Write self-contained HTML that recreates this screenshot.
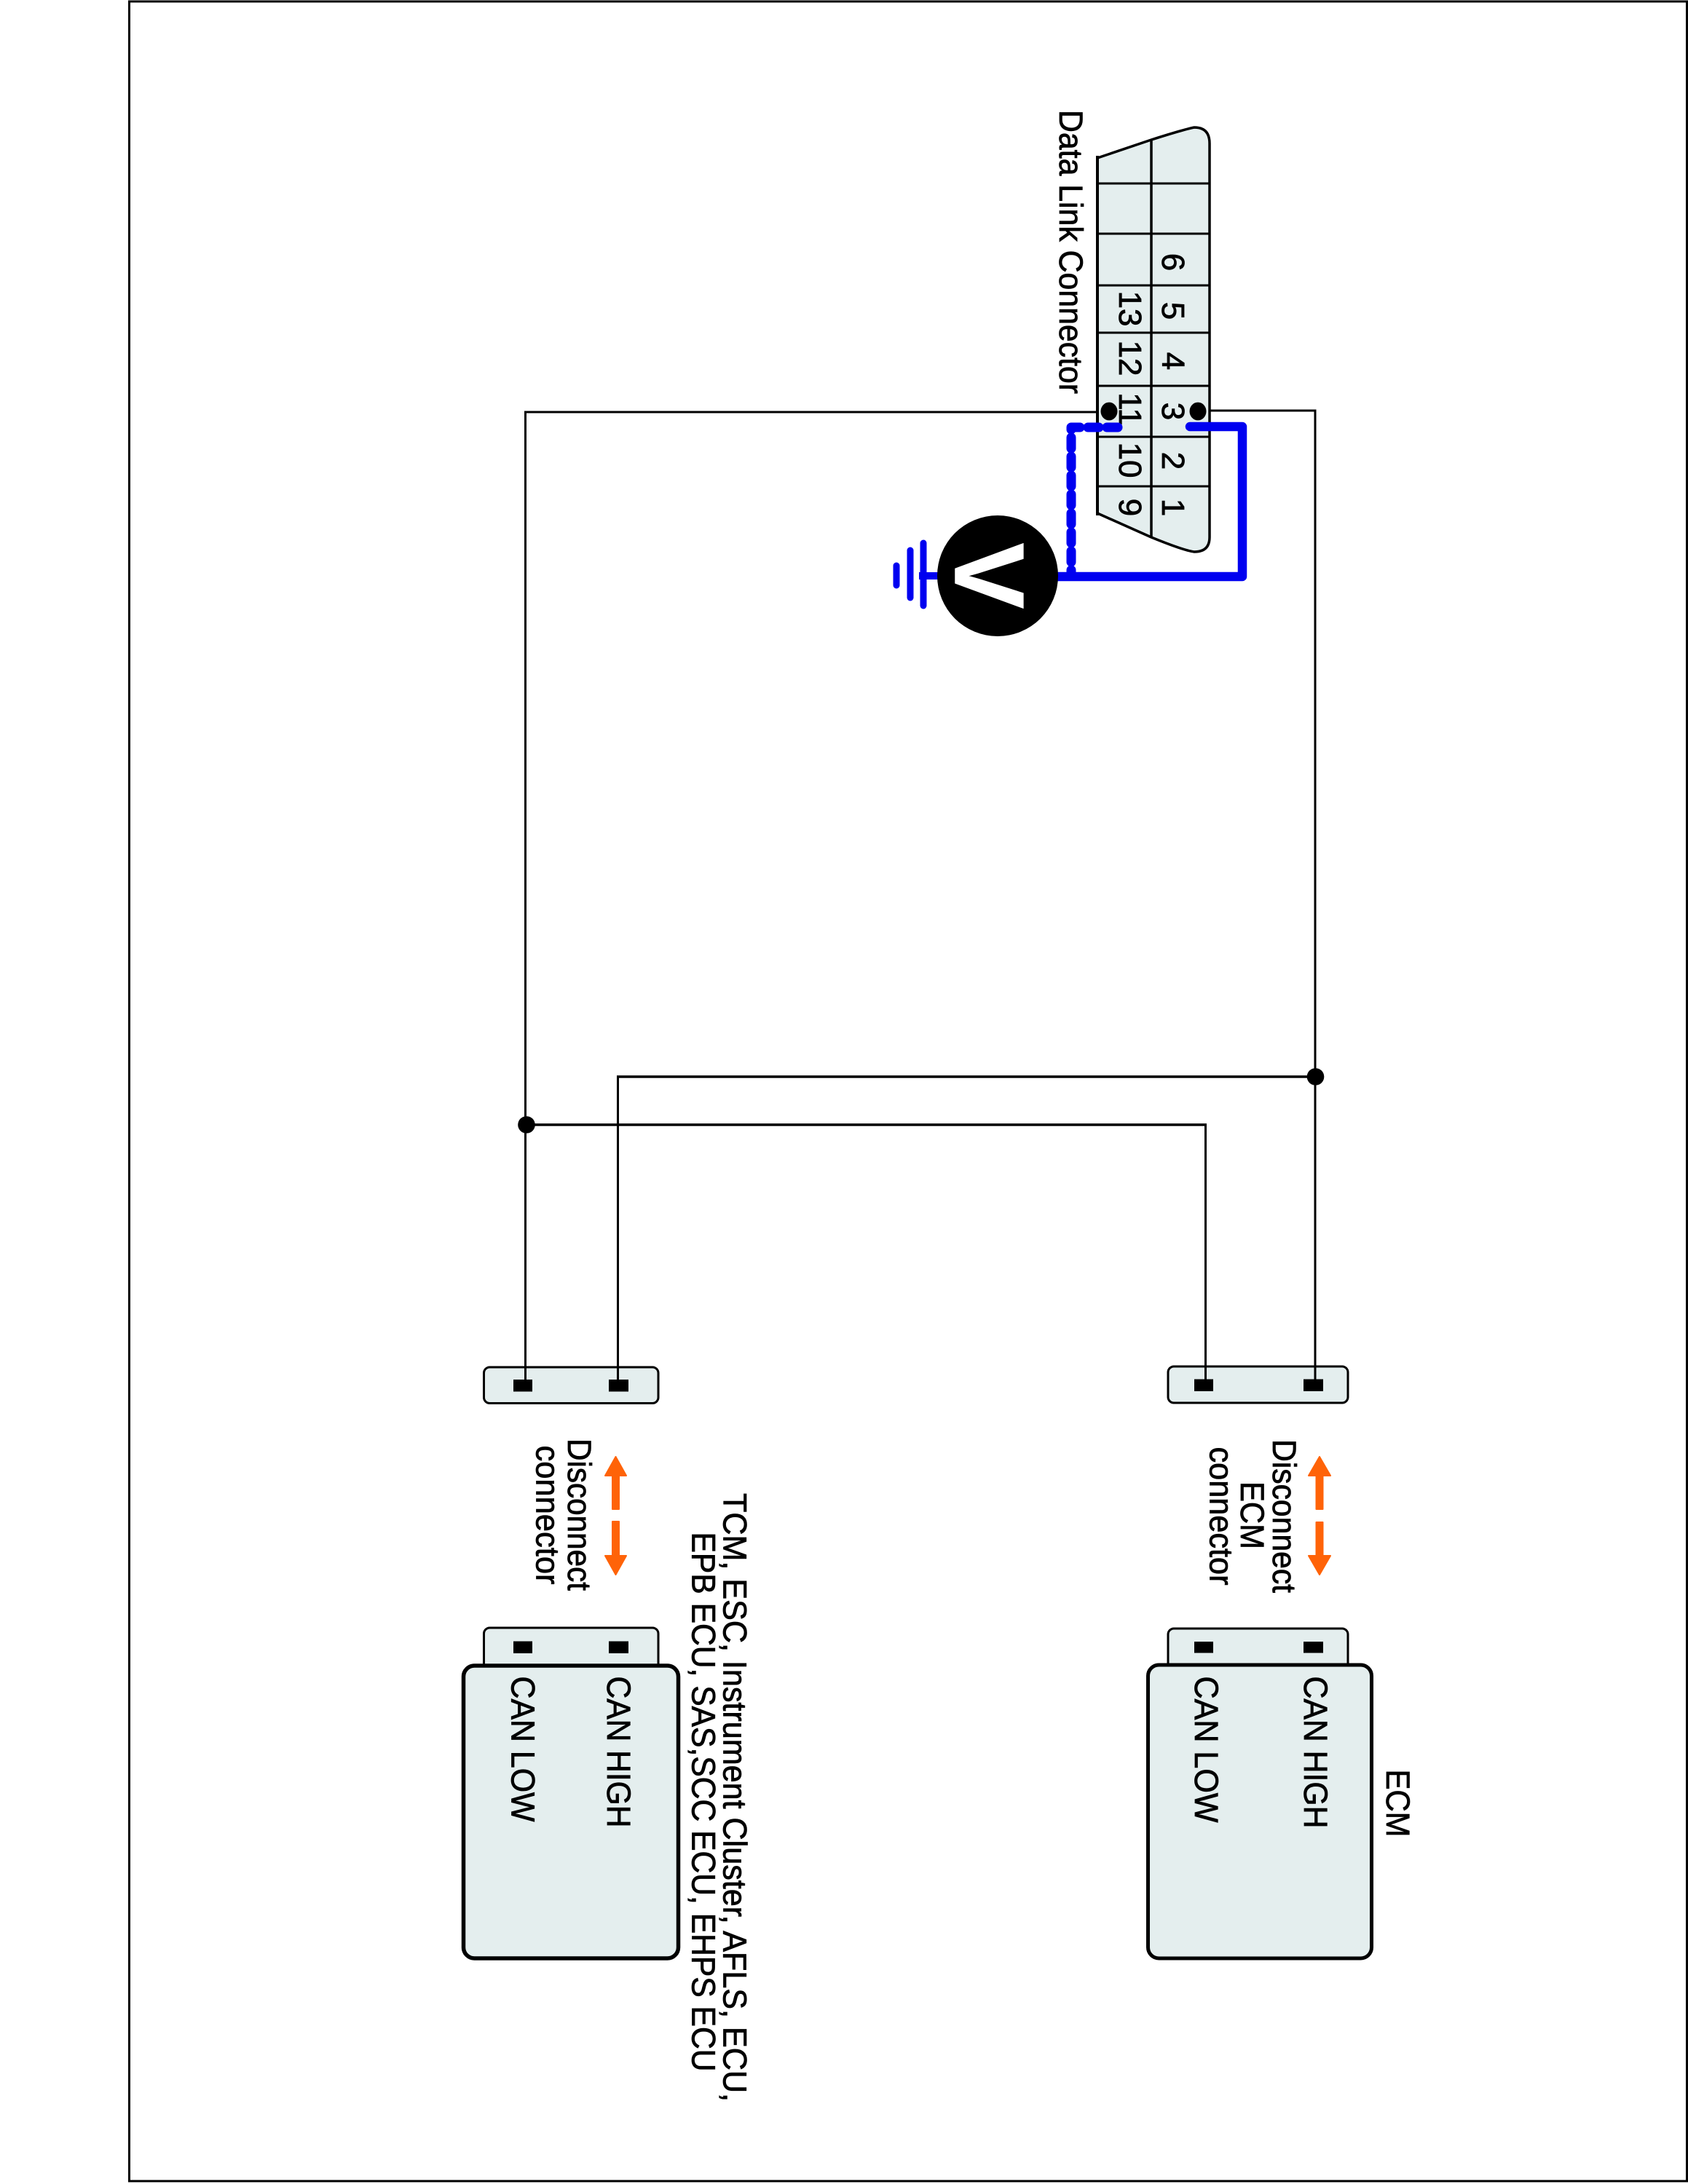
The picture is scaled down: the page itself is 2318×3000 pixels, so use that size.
<!DOCTYPE html>
<html>
<head>
<meta charset="utf-8">
<style>
html,body{margin:0;padding:0;background:#fff;width:2318px;height:3000px;overflow:hidden}
svg{display:block}
text{font-family:"Liberation Sans",sans-serif;fill:#000;stroke:#000;stroke-width:.8px}
</style>
</head>
<body>
<svg xmlns="http://www.w3.org/2000/svg" width="2318" height="3000" viewBox="0 0 2318 3000">
<rect width="2318" height="3000" fill="#fff"/>
<rect x="177.5" y="2" width="2139" height="2994" fill="none" stroke="#000" stroke-width="3"/>

<!-- Data link connector -->
<path d="M1507 217 L1581 192 Q1625 178 1640 175 Q1661 175 1661 197 L1661 738 Q1661 758 1640 758 Q1625 756 1581 738 L1507 705 Z" fill="#e4eeee" stroke="#000" stroke-width="3.500"/>
<path d="M1507 214V708" fill="none" stroke="#000" stroke-width="4"/>
<path d="M1581 192V738" fill="none" stroke="#000" stroke-width="3.500"/>
<g stroke="#000" stroke-width="3">
<path d="M1507 252H1661M1507 321H1661M1507 392H1661M1507 457H1661M1507 530H1661M1507 600H1661M1507 668H1661"/>
</g>
<g font-size="44" text-anchor="middle">
<text transform="translate(1596,360) rotate(90)">6</text>
<text transform="translate(1596,427) rotate(90)">5</text>
<text transform="translate(1596,496) rotate(90)">4</text>
<text transform="translate(1596,565) rotate(90)">3</text>
<text transform="translate(1596,633) rotate(90)">2</text>
<text transform="translate(1596,697) rotate(90)">1</text>
<text transform="translate(1537,424) rotate(90)">13</text>
<text transform="translate(1537,492) rotate(90)">12</text>
<text transform="translate(1537,562) rotate(90)">11</text>
<text transform="translate(1537,632) rotate(90)">10</text>
<text transform="translate(1537,697) rotate(90)">9</text>
</g>
<text transform="translate(1455,151) rotate(90)" font-size="45" textLength="390" lengthAdjust="spacingAndGlyphs">Data Link Connector</text>

<!-- Left plug -->
<rect x="664.500" y="1878" width="239.500" height="49.500" rx="8" fill="#e4eeee" stroke="#000" stroke-width="3"/>
<rect x="705" y="1895" width="26" height="16.500" fill="#000"/>
<rect x="836" y="1895" width="27" height="16.500" fill="#000"/>
<!-- Left female -->
<rect x="664.500" y="2236" width="239.500" height="70" rx="8" fill="#e4eeee" stroke="#000" stroke-width="3"/>
<rect x="705" y="2254.500" width="26" height="16.500" fill="#000"/>
<rect x="836" y="2254.500" width="27" height="16.500" fill="#000"/>
<rect x="636.500" y="2288" width="295" height="402" rx="15" fill="#e4eeee" stroke="#000" stroke-width="5.500"/>

<!-- Right plug -->
<rect x="1604" y="1877" width="247" height="50" rx="8" fill="#e4eeee" stroke="#000" stroke-width="3"/>
<rect x="1640" y="1894.500" width="26" height="16.500" fill="#000"/>
<rect x="1790" y="1894.500" width="27" height="16.500" fill="#000"/>
<!-- Right female -->
<rect x="1604" y="2237" width="247" height="70" rx="8" fill="#e4eeee" stroke="#000" stroke-width="3"/>
<rect x="1640" y="2255" width="26" height="15.500" fill="#000"/>
<rect x="1790" y="2255" width="27" height="15.500" fill="#000"/>
<rect x="1576.500" y="2287" width="307" height="403" rx="15" fill="#e4eeee" stroke="#000" stroke-width="5"/>

<!-- Wires -->
<g fill="none" stroke="#000" stroke-width="3">
<path d="M1507 566H721.500V1900"/>
<path d="M1661 564H1806V1900"/>
<path d="M848.500 1900V1479"/>
<path d="M1655.500 1900V1545"/>
</g>
<path d="M847 1479H1805M722 1545H1657" fill="none" stroke="#000" stroke-width="3.600"/>
<ellipse cx="1523" cy="565" rx="11.500" ry="12.400" fill="#000"/>
<ellipse cx="1645" cy="565" rx="11.500" ry="12.400" fill="#000"/>
<circle cx="723" cy="1545" r="11.800" fill="#000"/>
<circle cx="1806.500" cy="1479" r="11.800" fill="#000"/>

<!-- Voltmeter leads -->
<path d="M1634 586H1706V792H1440" fill="none" stroke="#0000f0" stroke-width="12.500" stroke-linecap="round" stroke-linejoin="round"/>
<path d="M1535 587H1471V787" fill="none" stroke="#0000f0" stroke-width="13" stroke-linecap="round" stroke-linejoin="round" stroke-dasharray="15 11"/>
<path d="M1262 791H1300" stroke="#0000f0" stroke-width="10" fill="none"/>
<g fill="none" stroke="#0000f0" stroke-width="9" stroke-linecap="round">
<path d="M1268 746V832"/>
<path d="M1250 756V821"/>
<path d="M1231 777V804"/>
</g>
<circle cx="1370" cy="791" r="83" fill="#000"/>
<text transform="translate(1312,791) rotate(90)" font-size="135" font-weight="700" text-anchor="middle" style="fill:#fff;stroke:#fff;stroke-width:1.500px">V</text>

<!-- Arrows -->
<g fill="#ff6308" stroke="#ff6308" stroke-width="2" stroke-linejoin="round">
<path d="M845.500 2001L860 2027H850V2073H841V2027H831Z"/>
<path d="M841 2090H850V2137H860L845.500 2163L831 2137H841Z"/>
<path d="M1812 2001L1827 2027H1816.500V2073H1807.500V2027H1797Z"/>
<path d="M1807.500 2091H1816.500V2137H1827L1812 2163L1797 2137H1807.500Z"/>
</g>

<!-- Labels -->
<g font-size="45">
<text transform="translate(780,1976) rotate(90)" textLength="209" lengthAdjust="spacingAndGlyphs">Disconnect</text>
<text transform="translate(736.500,1985.500) rotate(90)" textLength="191" lengthAdjust="spacingAndGlyphs">connector</text>
<text transform="translate(834,2302.500) rotate(90)" textLength="208" lengthAdjust="spacingAndGlyphs">CAN HIGH</text>
<text transform="translate(702.500,2302.500) rotate(90)" textLength="200" lengthAdjust="spacingAndGlyphs">CAN LOW</text>
<text transform="translate(993.500,2051) rotate(90)" textLength="836" lengthAdjust="spacingAndGlyphs">TCM, ESC, Instrument Cluster, AFLS, ECU,</text>
<text transform="translate(950.500,2104.500) rotate(90)" textLength="741" lengthAdjust="spacingAndGlyphs">EPB ECU, SAS,SCC ECU, EHPS ECU</text>
<text transform="translate(1748,1977) rotate(90)" textLength="211" lengthAdjust="spacingAndGlyphs">Disconnect</text>
<text transform="translate(1704,2035) rotate(90)" textLength="93" lengthAdjust="spacingAndGlyphs">ECM</text>
<text transform="translate(1661.500,1987.500) rotate(90)" textLength="190" lengthAdjust="spacingAndGlyphs">connector</text>
<text transform="translate(1791,2302.500) rotate(90)" textLength="209" lengthAdjust="spacingAndGlyphs">CAN HIGH</text>
<text transform="translate(1641,2302.500) rotate(90)" textLength="201" lengthAdjust="spacingAndGlyphs">CAN LOW</text>
<text transform="translate(1904,2430.500) rotate(90)" textLength="93" lengthAdjust="spacingAndGlyphs">ECM</text>
</g>
</svg>
</body>
</html>
